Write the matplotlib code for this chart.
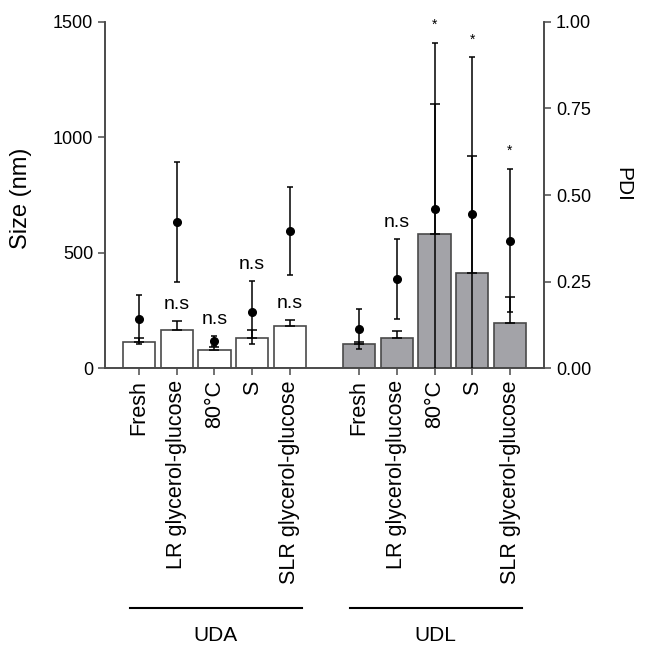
import numpy as np
import matplotlib
matplotlib.use("Agg")
import matplotlib.pyplot as plt

plt.rcParams['font.family'] = ['Liberation Sans', 'DejaVu Sans']

treatments = ['Fresh', 'LR glycerol-glucose', '80°C', 'S', 'SLR glycerol-glucose']
groups = ['UDA', 'UDL']

# size (nm), mean and SD
uda_size = [113, 165, 80, 131, 182]
uda_size_sd = [20, 39, 15, 34, 26]
udl_size = [107, 131, 582, 414, 195]
udl_size_sd = [9, 32, 561, 506, 114]

# PDI, mean and SD
uda_pdi = [0.142, 0.422, 0.079, 0.162, 0.396]
uda_pdi_sd = [0.071, 0.172, 0.014, 0.090, 0.127]
udl_pdi = [0.114, 0.258, 0.459, 0.446, 0.369]
udl_pdi_sd = [0.057, 0.115, 0.480, 0.451, 0.206]

# significance marks
uda_sig = ['', 'n.s', 'n.s', 'n.s', 'n.s']
udl_sig = ['', 'n.s', '*', '*', '*']
# which error bar the mark sits above
uda_anchor = ['', 'size', 'pdi', 'pdi', 'size']
udl_anchor = ['', 'pdi', 'pdi', 'pdi', 'pdi']

edge = '#4a4a4a'
fig = plt.figure(figsize=(6.51, 6.46), dpi=100)
ax = fig.add_axes([0.1613, 0.4296, 0.6743, 0.5368])
ax2 = ax.twinx()
ax2.set_zorder(ax.get_zorder() + 1)
ax.patch.set_visible(False)

x1 = np.arange(len(treatments))
x2 = x1 + 5.83
width = 0.85

data = [
    (x1, uda_size, uda_size_sd, uda_pdi, uda_pdi_sd, uda_sig, uda_anchor, 'white'),
    (x2, udl_size, udl_size_sd, udl_pdi, udl_pdi_sd, udl_sig, udl_anchor, '#a3a3a8'),
]

for xs, size, ssd, pdi, psd, sig, anchor, fc in data:
    ax.bar(xs, size, width, color=fc, edgecolor=edge, linewidth=1.2, zorder=2)
    ax.errorbar(xs, size, yerr=[np.zeros(len(ssd)), ssd], fmt='none',
                ecolor='black', elinewidth=1.1, capsize=3.5, capthick=1.1, zorder=3)
    ax2.errorbar(xs, pdi, yerr=psd, fmt='o', color='black', markersize=5.5,
                 elinewidth=1.1, capsize=2.5, capthick=1.1, zorder=4)
    for i in range(len(xs)):
        if not sig[i]:
            continue
        if anchor[i] == 'size':
            top = (size[i] + ssd[i]) / 1500
        else:
            top = pdi[i] + psd[i]
        if sig[i] == '*':
            ax2.annotate('*', (xs[i], top), xytext=(0, 8), textcoords='offset points',
                         ha='center', va='bottom', fontsize=10, annotation_clip=False)
        else:
            ax2.annotate('n.s', (xs[i], top), xytext=(0, 6), textcoords='offset points',
                         ha='center', va='bottom', fontsize=14)

ax.set_xlim(-0.9, 10.73)
ax.set_ylim(0, 1500)
ax2.set_ylim(0, 1)
ax.set_yticks([0, 500, 1000, 1500])
ax2.set_yticks([0, 0.25, 0.5, 0.75, 1.0])
ax2.set_yticklabels(['0.00', '0.25', '0.50', '0.75', '1.00'])
ax.set_xticks(np.concatenate([x1, x2]), treatments + treatments, rotation=90)

for a in (ax, ax2):
    a.spines['top'].set_visible(False)
    for s in ('left', 'right', 'bottom'):
        a.spines[s].set_color(edge)
        a.spines[s].set_linewidth(1.2)
    a.tick_params(colors=edge, labelcolor='black', width=1.1, length=5, labelsize=13)
ax.tick_params(axis='x', labelsize=15.5)

ax.set_ylabel('Size (nm)', fontsize=17)
ax.yaxis.set_label_coords(-0.166, 0.49)
ax2.set_ylabel('PDI', fontsize=15, rotation=270, va='center')
ax2.yaxis.set_label_coords(1.18, 0.53)

trans = ax.get_xaxis_transform()
for xs, name in zip((x1, x2), groups):
    ax.plot([xs[0] - 0.25, xs[-1] + 0.32], [-0.69, -0.69], color='black',
            linewidth=1.5, transform=trans, clip_on=False)
    ax.text(xs.mean() + 0.02, -0.77, name, transform=trans, ha='center',
            va='center', fontsize=15)

fig.savefig('out.png', dpi=100)
